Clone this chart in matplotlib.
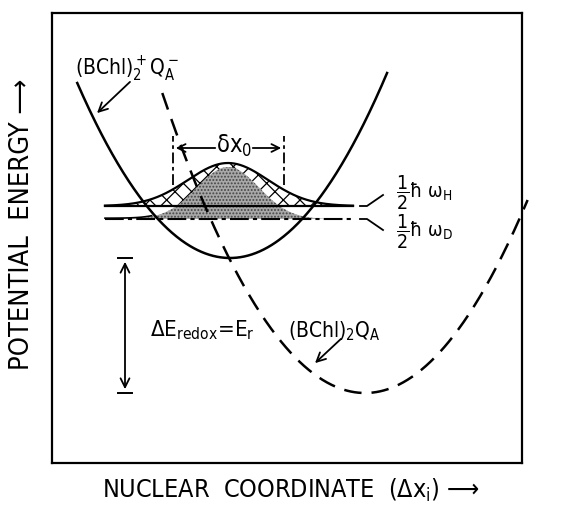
import numpy as np
import matplotlib
matplotlib.use("Agg")
import matplotlib.pyplot as plt

plt.rcParams['font.family'] = ['DejaVu Sans']
plt.rcParams['font.stretch'] = 'condensed'
plt.rcParams['mathtext.fontset'] = 'custom'
plt.rcParams['mathtext.rm'] = 'DejaVu Sans:stretch=condensed'
plt.rcParams['mathtext.it'] = 'DejaVu Sans:stretch=condensed'
plt.rcParams['mathtext.sf'] = 'DejaVu Sans:stretch=condensed'
plt.rcParams['hatch.linewidth'] = 0.9

# potential surfaces: (minimum position, minimum energy, curvature, energy at ends)
upper_min = (178, 205)
upper_k = 0.0075
upper_top = (380, 390)          # energy where left / right branch stops
lower_min = (313, 70)
lower_k = 0.0073
lower_top = (370, 263)

# zero-point wavefunctions: centre, baseline energy, amplitude, width
wide_centre, wide_base, wide_amp, wide_sigma = 176, 257, 43, 40
narrow_centre, narrow_base, narrow_amp, narrow_sigma = 176, 244, 52, 31
wave_span = (53, 301)
dx_marks = (121, 232)

labels_zpe = [r'$\dfrac{1}{2}\hbar\ \omega_H$', r'$\dfrac{1}{2}\hbar\ \omega_D$']


def branch(x0, e0, k, e_left, e_right):
    xl = x0 - np.sqrt((e_left - e0) / k)
    xr = x0 + np.sqrt((e_right - e0) / k)
    x = np.linspace(xl, xr, 400)
    return x, e0 + k * (x - x0) ** 2


def gauss(x, c, base, amp, s):
    return base + amp * np.exp(-(x - c) ** 2 / (2 * s ** 2))


fig = plt.figure(figsize=(5.73, 5.08), dpi=100)
ax = fig.add_axes([52 / 573, 45 / 508, 470 / 573, 450 / 508])
ax.set_xlim(0, 470)
ax.set_ylim(0, 450)
ax.set_xticks([])
ax.set_yticks([])
for sp in ax.spines.values():
    sp.set_linewidth(1.6)

# wavefunctions
xw = np.linspace(*wave_span, 400)
yw = gauss(xw, wide_centre, wide_base, wide_amp, wide_sigma)
yn = gauss(xw, narrow_centre, narrow_base, narrow_amp, narrow_sigma)
ax.fill_between(xw, wide_base, yw, facecolor='white', edgecolor='black',
                hatch='xx', linewidth=0, zorder=1)
ax.fill_between(xw, narrow_base, yn, facecolor='#a8a8a8', edgecolor='#444444',
                hatch='.....', linewidth=0, zorder=2)
ax.plot(xw, yw, color='black', lw=1.6, zorder=3)
ax.plot(xw, np.full_like(xw, wide_base), color='black', lw=1.6, zorder=3)
ax.plot(xw, np.full_like(xw, narrow_base), color='black', lw=1.5,
        dashes=(9, 2, 2, 2), zorder=3)
ax.plot(xw[xw < 100], yn[xw < 100] + 0.8, color='black', lw=1.2, zorder=3)

# leader lines to the zero-point labels
for base, sgn, lab in [(wide_base, 1, labels_zpe[0]), (narrow_base, -1, labels_zpe[1])]:
    ax.plot([308, 315, 331], [base, base, base + 11 * sgn], color='black', lw=1.3)
    ax.text(344, base + 13 * sgn, lab, fontsize=14, va='center', ha='left')

# delta x0 width marks
for xm in dx_marks:
    ax.plot([xm, xm], [278, 327], color='black', lw=1.3, dashes=(6, 2, 2, 2))
ax.annotate('', xy=(dx_marks[0], 315), xytext=(166, 315),
            arrowprops=dict(arrowstyle='->', lw=1.3, mutation_scale=14))
ax.annotate('', xy=(dx_marks[1], 315), xytext=(198, 315),
            arrowprops=dict(arrowstyle='->', lw=1.3, mutation_scale=14))
ax.text(182, 317, r'$\delta$x$_0$', fontsize=17, ha='center', va='center')

# potential curves
xs, ys = branch(*upper_min, upper_k, *upper_top)
ax.plot(xs, ys, color='black', lw=1.8, zorder=4)
xd, yd = branch(*lower_min, lower_k, *lower_top)
ax.plot(xd, yd, color='black', lw=1.8, dashes=(7, 4), zorder=4, clip_on=False)

# driving force arrow between the two minima
xa = 73
ax.annotate('', xy=(xa, upper_min[1] - 1), xytext=(xa, lower_min[1] + 1),
            arrowprops=dict(arrowstyle='<->', lw=1.3, mutation_scale=16))
for e in (upper_min[1], lower_min[1]):
    ax.plot([xa - 7, xa + 7], [e, e], color='black', lw=1.4)
ax.text(98, 133, r'$\Delta$E$_{\mathregular{redox}}$=E$_\mathregular{r}$', fontsize=16,
        ha='left', va='center')

# state labels
ax.text(23, 394, r'(BChl)$_2^+$Q$_A^-$', fontsize=15, ha='left', va='center')
ax.annotate('', xy=(43, 348), xytext=(80, 383),
            arrowprops=dict(arrowstyle='->', lw=1.3, mutation_scale=16))
ax.text(236, 132, r'(BChl)$_2$Q$_A$', fontsize=15, ha='left', va='center')
ax.annotate('', xy=(261, 98), xytext=(291, 126),
            arrowprops=dict(arrowstyle='->', lw=1.3, mutation_scale=16))

fig.text(22 / 573, 1 - 224 / 508, 'POTENTIAL  ENERGY \u27f6', rotation=90,
         fontsize=19.5, ha='center', va='center')
fig.text(291 / 573, 1 - 490 / 508,
         r'NUCLEAR  COORDINATE  ($\Delta$x$_\mathregular{i}$) ' + '\u27f6',
         fontsize=18, ha='center', va='center')

fig.savefig('out.png', dpi=100)
